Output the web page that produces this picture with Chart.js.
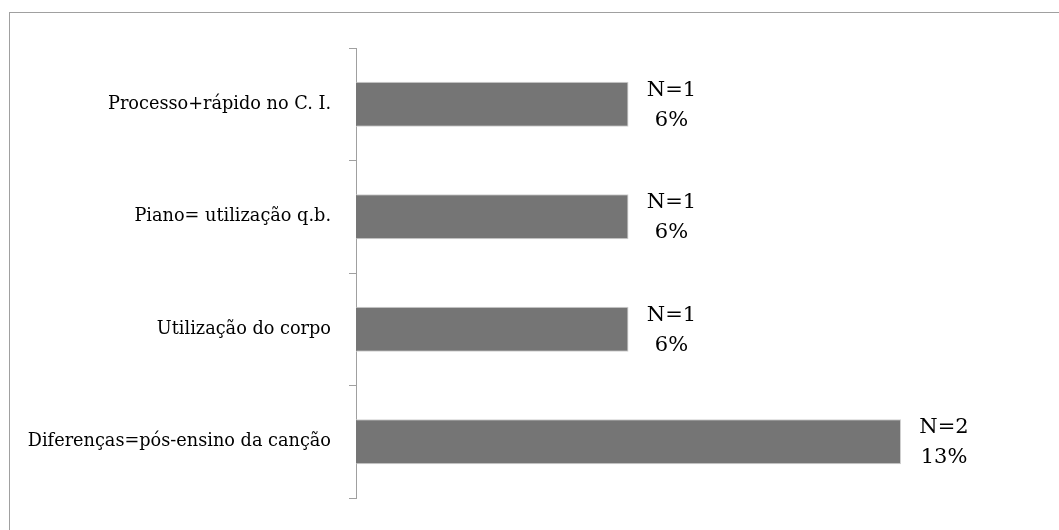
<!DOCTYPE html>
<html>
<head>
<meta charset="utf-8">
<script src="https://cdn.jsdelivr.net/npm/chart.js@4/dist/chart.umd.min.js"></script>
<style>
  html, body { margin: 0; padding: 0; background: #fff; overflow: hidden; }
  #wrap { width: 1059px; height: 530px; }
</style>
</head>
<body>
<div id="wrap"><canvas id="myChart" width="1059" height="530"></canvas></div>
<script>
const categories = [
  'Processo+rápido no C. I.',
  'Piano= utilização q.b.',
  'Utilização do corpo',
  'Diferenças=pós-ensino da canção'
];
const counts = [1, 1, 1, 2];
const percents = [6, 6, 6, 13];

const barGray = '#757575';
const lineGray = '#a0a0a0';

// outer frame of the chart box (runs off the right and bottom edges)
const framePlugin = {
  id: 'frame',
  beforeDraw(chart) {
    const ctx = chart.ctx;
    ctx.save();
    ctx.strokeStyle = lineGray;
    ctx.lineWidth = 1;
    ctx.strokeRect(9.5, 12.5, 1200, 700);
    ctx.restore();
  }
};

// "N=x" / "y%" labels beside each bar
const valueLabels = {
  id: 'valueLabels',
  afterDatasetsDraw(chart) {
    const ctx = chart.ctx;
    const meta = chart.getDatasetMeta(0);
    ctx.save();
    ctx.fillStyle = '#000';
    ctx.font = '21px "DejaVu Serif"';
    ctx.textAlign = 'center';
    ctx.textBaseline = 'middle';
    meta.data.forEach((bar, i) => {
      const x = bar.x + 43;
      ctx.fillText('N=' + counts[i], x, bar.y - 14);
      ctx.fillText(percents[i] + '%', x, bar.y + 16);
    });
    ctx.restore();
  }
};

new Chart(document.getElementById('myChart'), {
  type: 'bar',
  data: {
    labels: categories,
    datasets: [{
      data: counts,
      backgroundColor: barGray,
      borderColor: '#cfcfcf',
      borderWidth: 1,
      barPercentage: 0.4,
      categoryPercentage: 1
    }]
  },
  options: {
    indexAxis: 'y',
    responsive: false,
    animation: false,
    layout: { padding: { left: 0, right: 158, top: 48, bottom: 32 } },
    plugins: {
      legend: { display: false },
      tooltip: { enabled: false }
    },
    scales: {
      x: { display: false, min: 0, max: 2 },
      y: {
        afterFit(scale) { scale.width = 356; },
        border: { display: true, color: lineGray, width: 1 },
        grid: {
          drawOnChartArea: false,
          drawTicks: true,
          tickLength: 7,
          color: lineGray,
          offset: true
        },
        ticks: {
          color: '#000',
          padding: 18,
          font: { family: 'DejaVu Serif', size: 17.7 }
        }
      }
    }
  },
  plugins: [framePlugin, valueLabels]
});
</script>
</body>
</html>
